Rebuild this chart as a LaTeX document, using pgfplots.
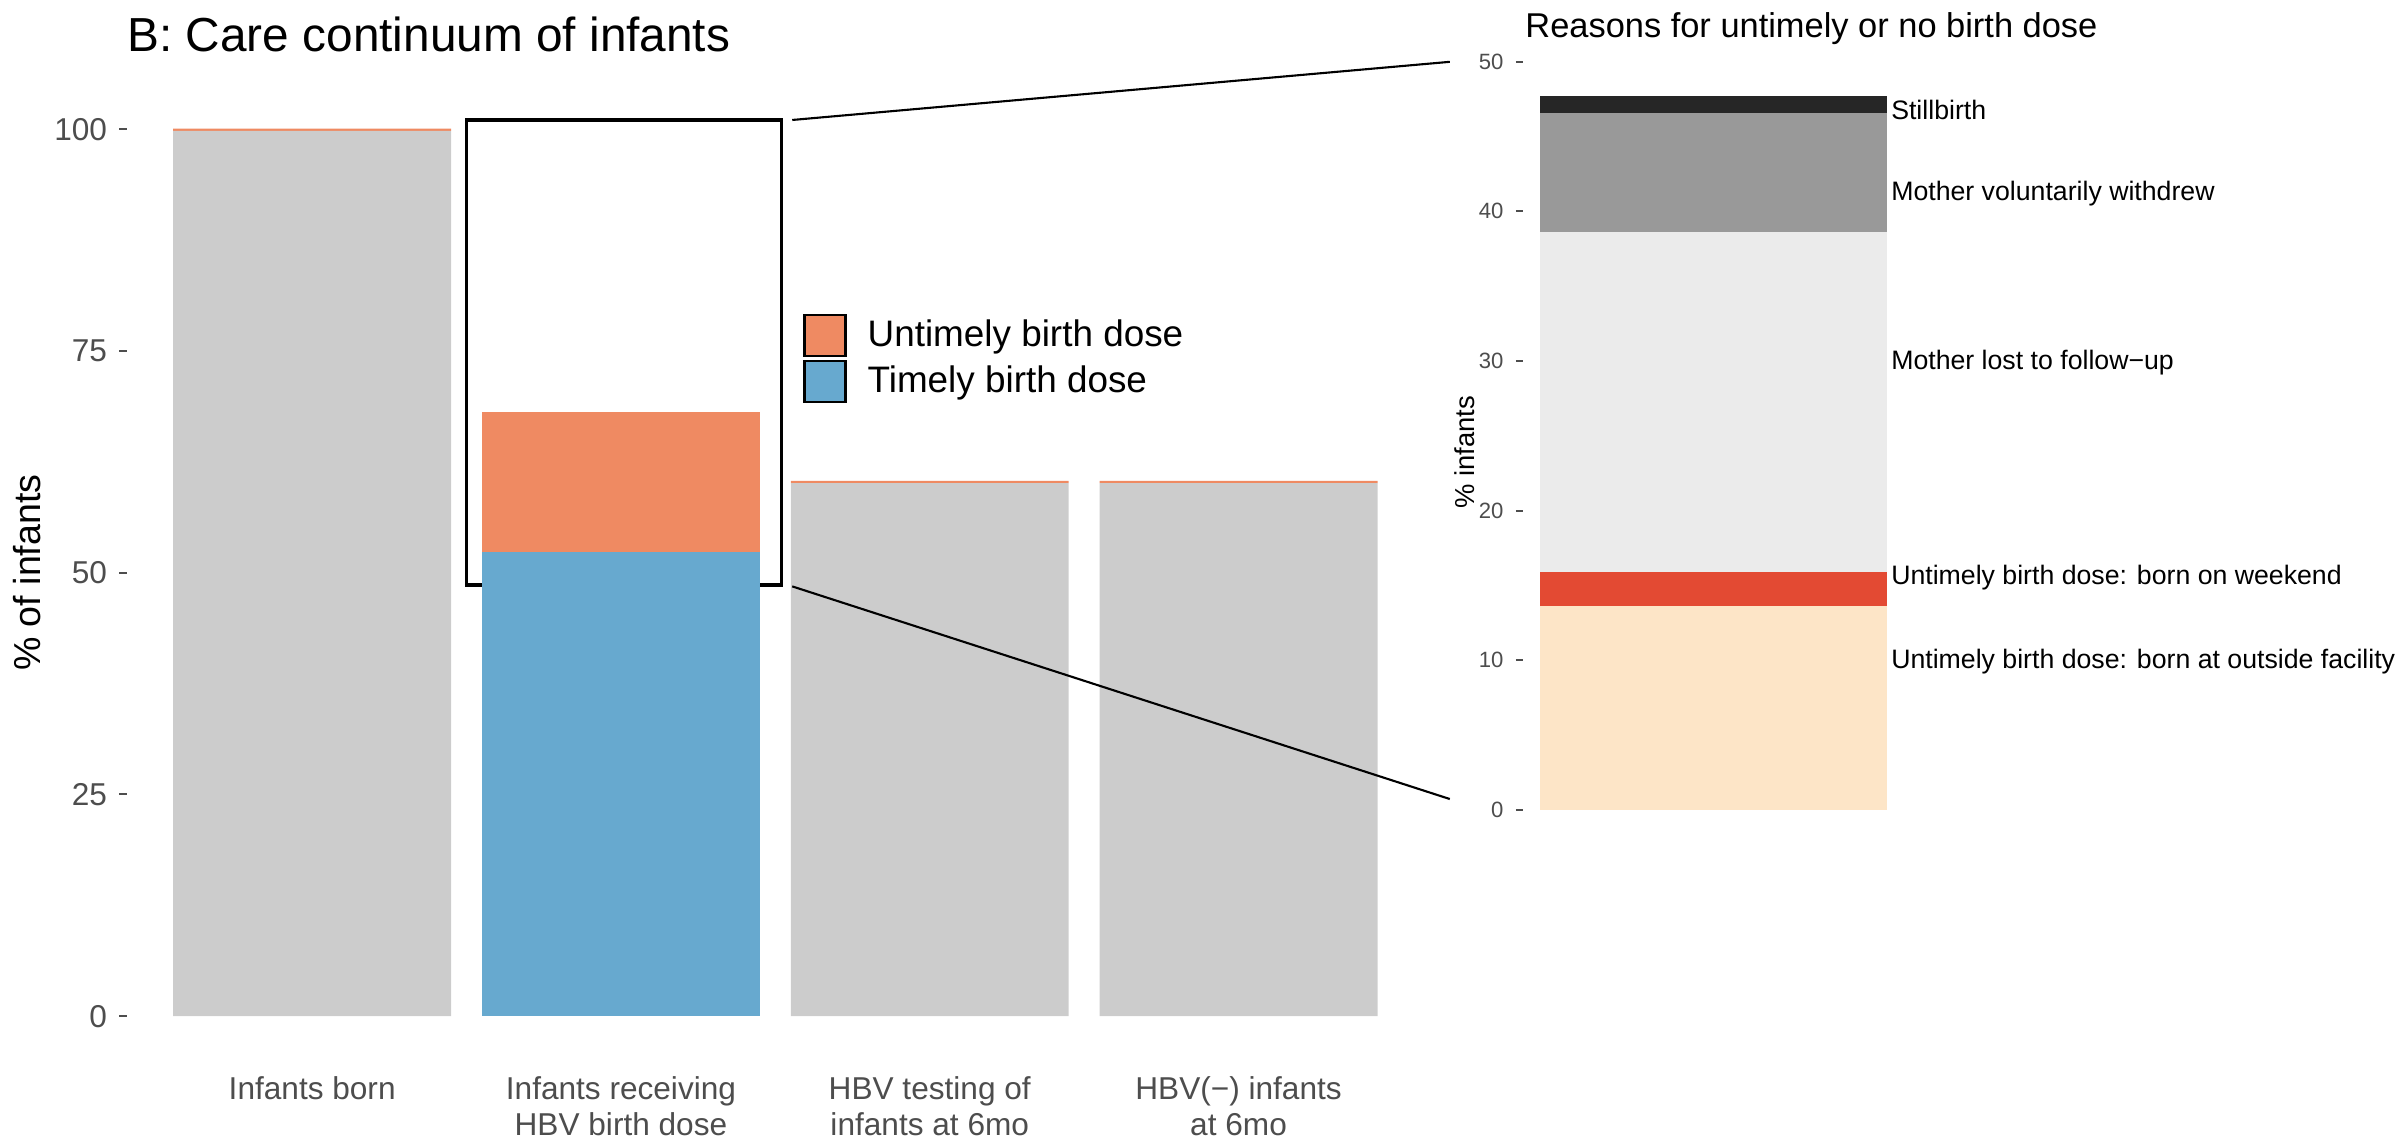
\documentclass[border=0pt]{standalone}
\usepackage{fontspec}
\setmainfont{Liberation Sans}
\usepackage{pgfplots}
\pgfplotsset{compat=1.18}

\definecolor{cgray}{HTML}{CCCCCC}
\definecolor{cblue}{HTML}{67A9CF}
\definecolor{corange}{HTML}{EF8A62}
\definecolor{cbeige}{HTML}{FDE5C7}
\definecolor{cred}{HTML}{E34A33}
\definecolor{clight}{HTML}{EBEBEB}
\definecolor{cmid}{HTML}{999999}
\definecolor{cdark}{HTML}{262626}
\definecolor{ctick}{HTML}{4D4D4D}

\pgfplotsset{
  ggbase/.style={
    scale only axis,
    axis line style={draw=none},
    tick align=outside,
    ytick pos=left,
    major tick length=0.075cm,
    major tick style={color=ctick, line width=0.6pt},
    ticklabel style={text=ctick},
    /pgf/number format/assume math mode=true,
    clip=false,
  },
}
\tikzset{barlab/.style={anchor=west, inner sep=1pt, font=\fontsize{7.6}{9}\selectfont}}

\begin{document}
\begin{tikzpicture}
\useasboundingbox (0,0) rectangle (24,11.41);

% ---- left panel: care continuum ----
\begin{axis}[ggbase,
  at={(1.270cm,0.796cm)}, anchor=south west,
  width=12.98cm, height=9.765cm,
  ybar stacked, bar width=0.9,
  xmin=0.4, xmax=4.6, ymin=-5, ymax=105,
  ytick={0,25,50,75,100},
  yticklabel style={font=\fontsize{9}{10}\selectfont},
  xtick={1,2,3,4},
  xticklabels={Infants born, Infants receiving\\HBV birth dose, HBV testing of\\infants at 6mo, HBV(−) infants\\at 6mo},
  xtick style={draw=none},
  xticklabel style={font=\fontsize{9}{10.4}\selectfont, align=center, anchor=north, yshift=0.04cm},
  ylabel={\% of infants},
  ylabel style={font=\fontsize{10.7}{12}\selectfont, at={(axis description cs:-0.077,0.5)}, anchor=center},
  legend style={draw=none, fill=none, inner sep=0pt, at={(axis cs:2.588,79.4)}, anchor=north west,
    font=\fontsize{10.5}{12}\selectfont, row sep=0pt,
    /tikz/every odd column/.append style={column sep=0.14cm}},
  legend cell align=left,
  reverse legend,
  legend image code/.code={\draw[#1, draw=black, line width=0.7pt] (0cm,-0.205cm) rectangle (0.41cm,0.205cm);},
]
\addplot[fill=cgray, draw=none, forget plot] coordinates {(1,99.8) (2,0) (3,60.1) (4,60.1)};
\addplot[fill=cblue, draw=none] coordinates {(1,0) (2,52.3) (3,0) (4,0)};
\addplot[fill=corange, draw=none] coordinates {(1,0.25) (2,15.8) (3,0.25) (4,0.25)};
\legend{Timely birth dose, Untimely birth dose}
\draw[black, line width=1.1pt] (axis cs:1.5,48.6) rectangle (axis cs:2.52,101);
\end{axis}

% ---- right panel: reasons ----
\begin{axis}[ggbase,
  at={(15.245cm,2.931cm)}, anchor=south west,
  width=3.834cm, height=8.235cm,
  ybar stacked, bar width=0.9,
  xmin=0.506, xmax=1.5, ymin=-2.5, ymax=52.5,
  ytick={0,10,20,30,40,50},
  yticklabel style={font=\fontsize{6.3}{7}\selectfont},
  xtick={1}, xticklabels={}, xtick style={draw=none},
  ylabel={\% infants},
  ylabel style={font=\fontsize{7.8}{9}\selectfont, at={(axis description cs:-0.152,0.48)}, anchor=center},
]
\addplot[fill=cbeige, draw=none] coordinates {(1,13.6)};
\addplot[fill=cred, draw=none] coordinates {(1,2.27)};
\addplot[fill=clight, draw=none] coordinates {(1,22.73)};
\addplot[fill=cmid, draw=none] coordinates {(1,7.97)};
\addplot[fill=cdark, draw=none] coordinates {(1,1.13)};
\node[barlab] at (axis cs:1.45,46.8) {Stillbirth};
\node[barlab] at (axis cs:1.45,41.2) {Mother voluntarily withdrew};
\node[barlab] at (axis cs:1.45,29.9) {Mother lost to follow−up};
\node[barlab] at (axis cs:1.45,15.5) {Untimely birth dose: born on weekend};
\node[barlab] at (axis cs:1.45,9.9) {Untimely birth dose: born at outside facility};
\end{axis}

% titles and zoom connectors
\node[anchor=base west, inner sep=0pt, font=\fontsize{13.6}{15}\selectfont] at (1.270,10.898) {B: Care continuum of infants};
\node[anchor=base west, inner sep=0pt, font=\fontsize{9.8}{11}\selectfont] at (15.26,11.036) {Reasons for untimely or no birth dose};
\draw[black, line width=0.6pt] (7.929,10.209) -- (14.510,10.791);
\draw[black, line width=0.6pt] (7.929,5.541) -- (14.510,3.413);
\end{tikzpicture}
\end{document}
